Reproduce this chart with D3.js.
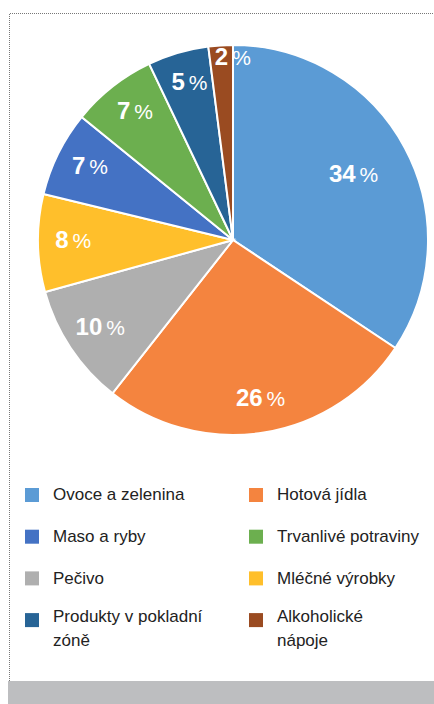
<!doctype html>
<html lang="cs">
<head>
    <meta charset="UTF-8">
    <title>Podíl kategorií</title>
    <style>
        body { margin: 0; background: #fff; }
        svg { display: block; font-family: "Liberation Sans", Arial, sans-serif; }
        .frame { fill: none; stroke: #777; stroke-width: 1; stroke-dasharray: 1 1; }
        .legend text { font-size: 17px; fill: #222; }
        .lbl { fill: #fff; }
    </style>
</head>
<body>
    <svg width="434" height="704"></svg>
    <script src="https://cdn.jsdelivr.net/npm/d3@7"></script>
    <script>
        // data
        const categories = ["Ovoce a zelenina", "Hotová jídla", "Pečivo", "Mléčné výrobky",
                            "Maso a ryby", "Trvanlivé potraviny", "Produkty v pokladní zóně", "Alkoholické nápoje"];
        const values = [34, 26, 10, 8, 7, 7, 5, 2];
        const colors = ["#5B9BD5", "#F4843F", "#AFAFAF", "#FFBF2B", "#4472C4", "#6CAF4F", "#276496", "#9A4B21"];
        // legend order (two columns)
        const legendOrder = ["Ovoce a zelenina", "Hotová jídla", "Maso a ryby", "Trvanlivé potraviny",
                             "Pečivo", "Mléčné výrobky", "Produkty v pokladní zóně", "Alkoholické nápoje"];
        const legendLines = {
            "Produkty v pokladní zóně": ["Produkty v pokladní", "zóně"],
            "Alkoholické nápoje": ["Alkoholické", "nápoje"]
        };

        const svg = d3.select("svg");
        const cx = 233, cy = 240, r = 195;

        // dotted frame + grey footer
        svg.append("path").attr("class", "frame")
            .attr("d", "M9.5,681 V13.5 H440");
        svg.append("rect").attr("x", 8).attr("y", 681).attr("width", 426).attr("height", 23)
            .attr("fill", "#BDBEC0");

        const color = d3.scaleOrdinal().domain(categories).range(colors);
        const pie = d3.pie().sort(null).value(d => d.v);
        const arcs = pie(categories.map((c, i) => ({c: c, v: values[i]})));
        const arc = d3.arc().innerRadius(0).outerRadius(r);

        const g = svg.append("g").attr("transform", `translate(${cx},${cy})`);
        g.selectAll("path.slice").data(arcs).join("path")
            .attr("class", "slice")
            .attr("d", arc)
            .attr("fill", d => color(d.data.c))
            .attr("stroke", "#fff")
            .attr("stroke-width", 2);

        // label ring depends on slice size (like "best fit")
        const ring = k => d3.arc().innerRadius(r * k).outerRadius(r * k);
        const bigLbl = ring(0.69), midLbl = ring(0.83), tinyLbl = ring(0.93);
        const pickRing = d => {
            const span = d.endAngle - d.startAngle;
            return span > 2 ? bigLbl : span < 0.2 ? tinyLbl : midLbl;
        };

        const lbl = g.selectAll("text.lbl").data(arcs).join("text")
            .attr("class", "lbl")
            .attr("dy", "0.36em");
        lbl.append("tspan").attr("class", "num").attr("font-size", 24).attr("font-weight", "bold").text(d => d.data.v);
        lbl.append("tspan").attr("font-size", 21).attr("dx", 4).text("%");
        lbl.each(function(d) {
            const t = d3.select(this);
            const [x, y] = pickRing(d).centroid(d);
            const full = this.getComputedTextLength();
            const num = t.select(".num").node().getComputedTextLength();
            const tiny = (d.endAngle - d.startAngle) < 0.2;
            // tiny slice: centre the digit on the slice, % spills over
            const x0 = tiny ? x - num / 2 : x - full / 2;
            t.attr("transform", `translate(${x0},${y})`);
        });

        // legend
        const leg = svg.append("g").attr("class", "legend");
        const rowY = i => 495 + i * 41.7;
        const colX = [25, 249];
        legendOrder.forEach((name, i) => {
            const col = i % 2, row = Math.floor(i / 2);
            const y = rowY(row);
            const item = leg.append("g").attr("transform", `translate(${colX[col]},${y})`);
            item.append("rect").attr("x", 0).attr("y", -7).attr("width", 14).attr("height", 14)
                .attr("fill", color(name));
            const lines = legendLines[name] || [name];
            const t = item.append("text");
            lines.forEach((ln, j) => {
                t.append("tspan").attr("x", 28)
                    .attr("y", lines.length > 1 ? -4 + j * 24 : -1)
                    .attr("dy", "0.36em")
                    .text(ln);
            });
        });
    </script>
</body>
</html>
